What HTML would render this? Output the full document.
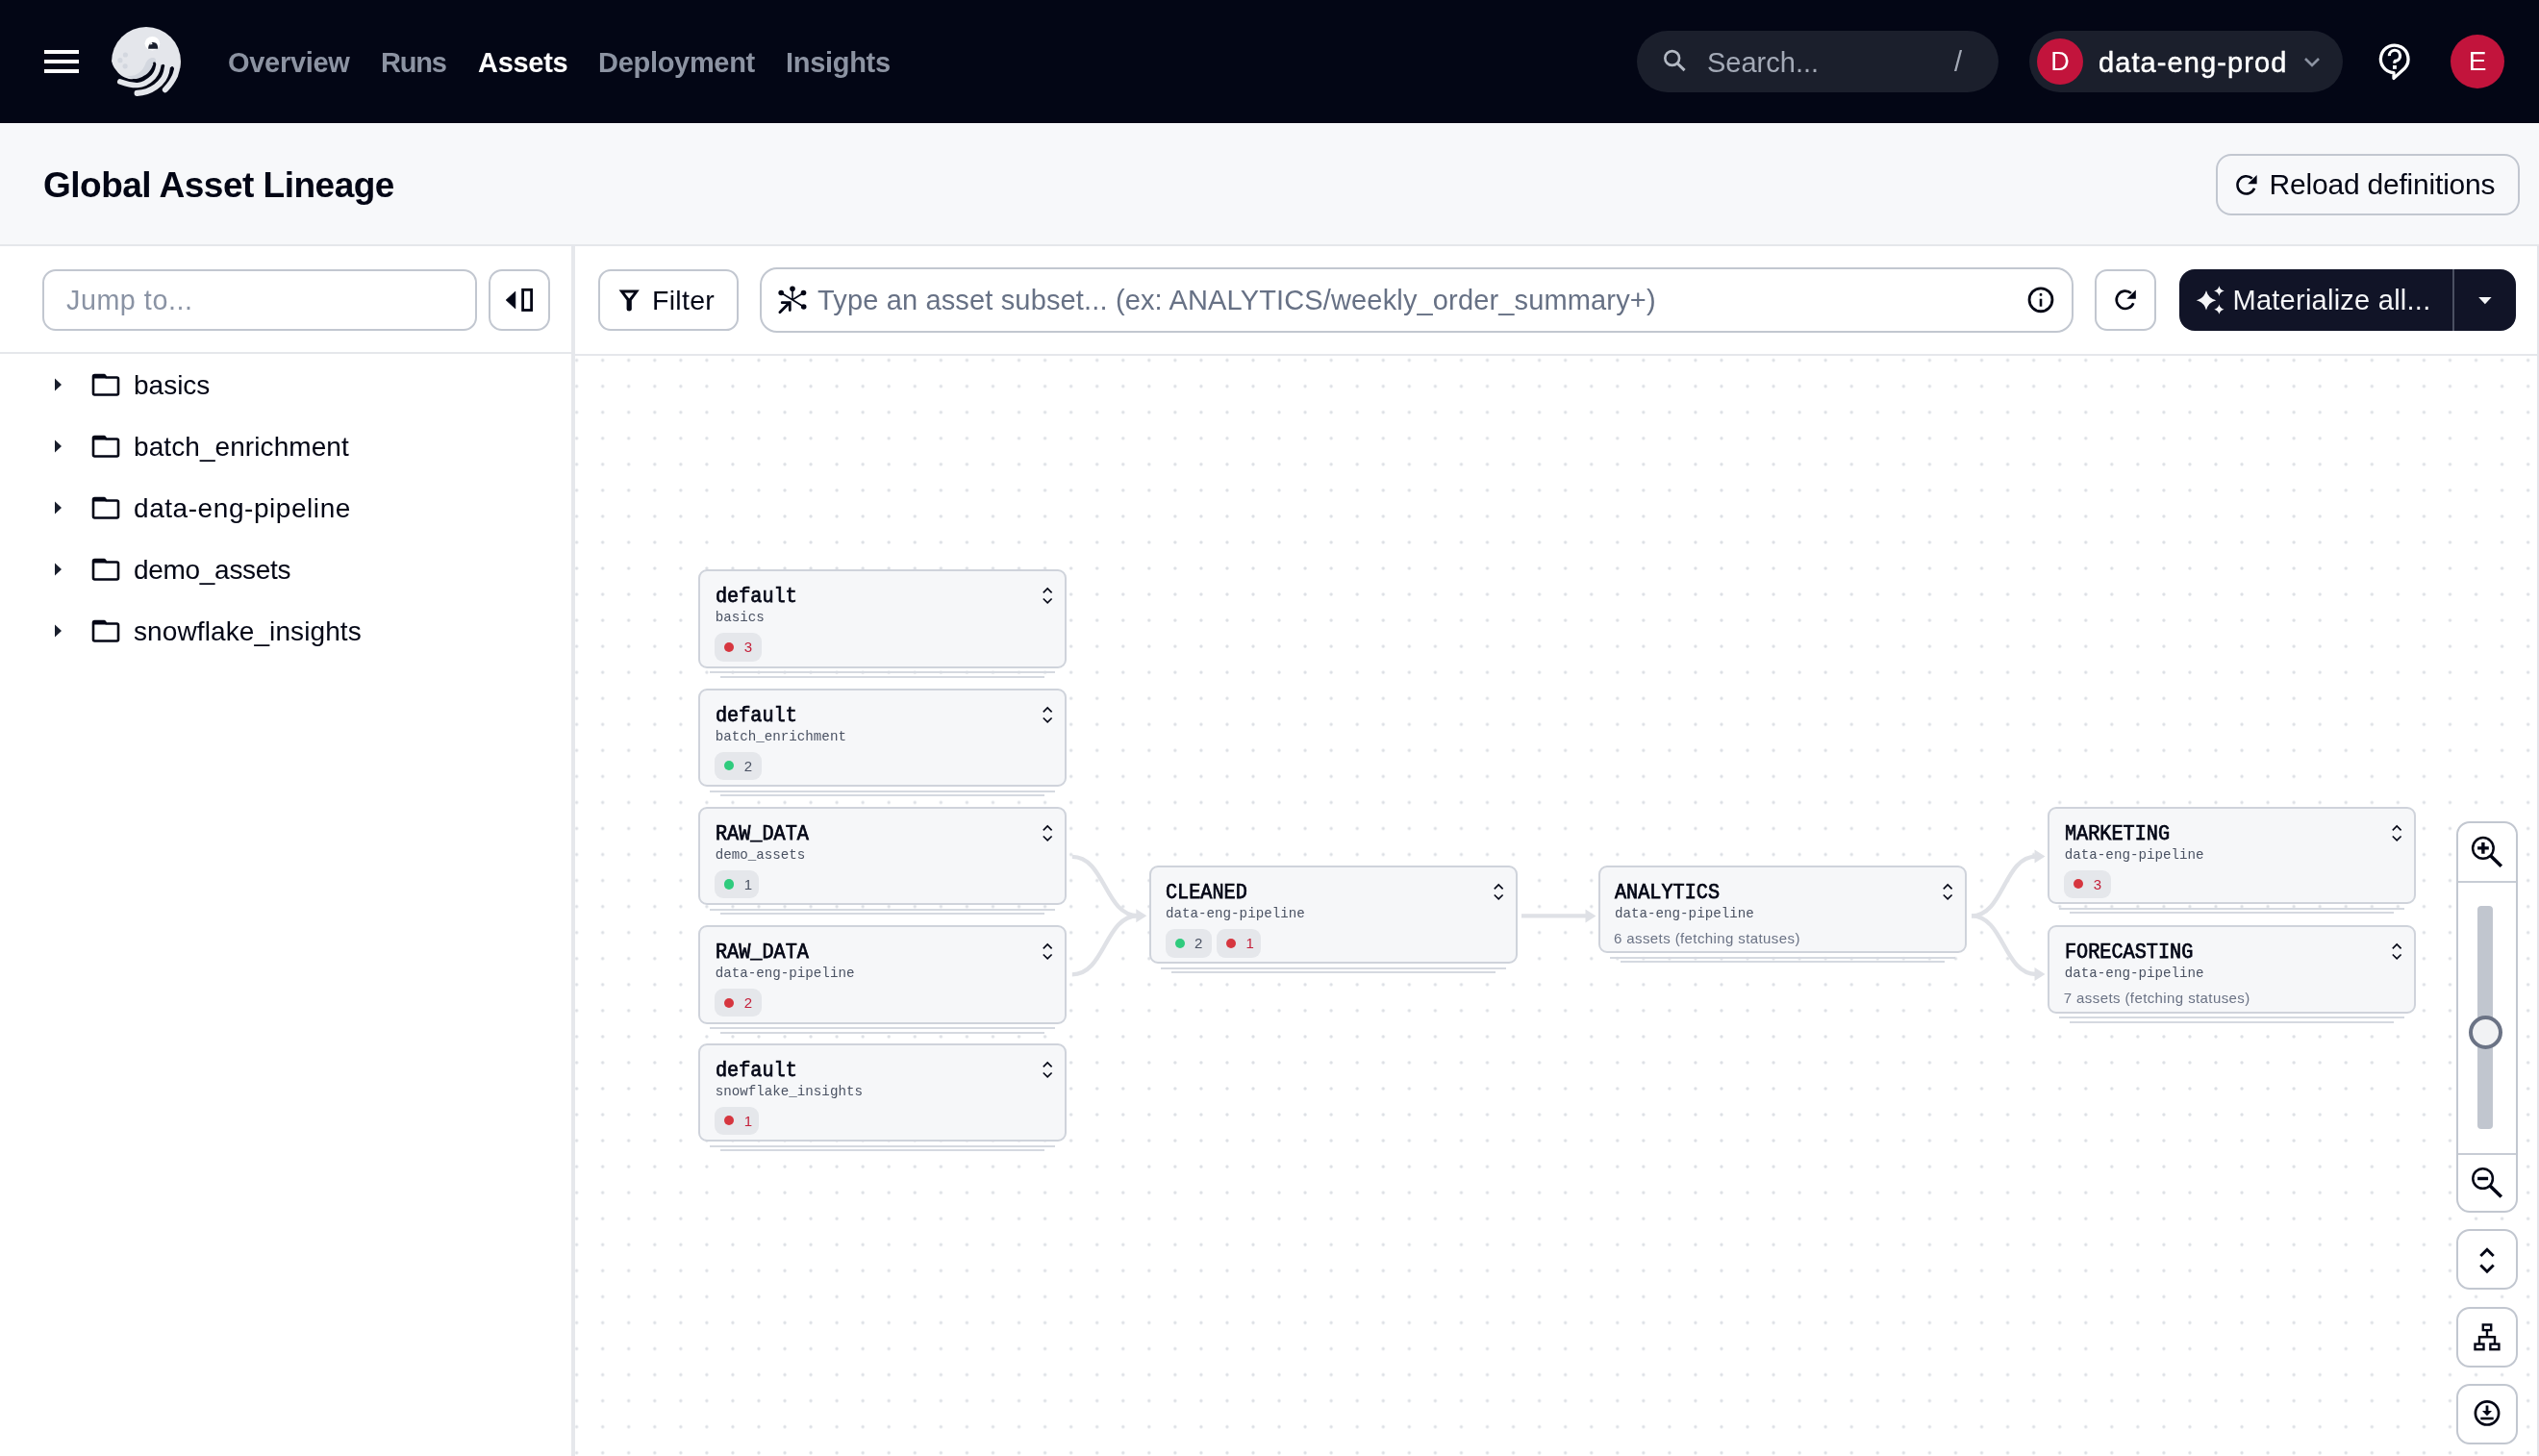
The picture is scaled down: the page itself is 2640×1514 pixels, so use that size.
<!DOCTYPE html>
<html><head><meta charset="utf-8">
<style>
*{box-sizing:border-box;margin:0;padding:0}
html,body{width:2640px;height:1514px;overflow:hidden;background:#fff}
body{font-family:"Liberation Sans",sans-serif;color:#030615;position:relative;-webkit-font-smoothing:antialiased}
.abs{position:absolute}
#root{position:absolute;left:0;top:0;width:2640px;height:1514px;background:#fff;will-change:transform;overflow:hidden}
#nav{position:absolute;left:0;top:0;width:2640px;height:128px;background:#030615}
.navlink{position:absolute;top:43px;font-size:29px;letter-spacing:-0.3px;font-weight:bold;color:#8c93a2;line-height:44px;white-space:nowrap}
.pill{position:absolute;background:#1b1f2c;border-radius:32px}
#phead{position:absolute;left:0;top:128px;width:2640px;height:128px;background:#f7f8fa;border-bottom:2px solid #e5e7eb}
.btn{position:absolute;border:2px solid #c2c7d0;border-radius:16px;background:transparent}
#side{position:absolute;left:0;top:256px;width:598px;height:1258px;background:#fff;border-right:4px solid #e6e8ec}
#gtool{position:absolute;left:598px;top:256px;width:2040px;height:114px;background:#fff;border-bottom:2px solid #e5e7eb}
#canvas{position:absolute;left:598px;top:370px;width:2040px;height:1144px;background:#fff;overflow:hidden}
#rb{position:absolute;left:2638px;top:256px;width:2px;height:1258px;background:#e3e5ea}
.row{position:absolute;left:0;height:64px;width:594px}
.row .txt{position:absolute;left:139px;top:1px;line-height:64px;font-size:28px;color:#030615;white-space:nowrap}
.node{position:absolute;width:383px;border:2px solid #cfd3db;border-radius:9px;background:#f6f7f9}
.node .t{position:absolute;left:15.5px;top:14px;font-family:"Liberation Mono",monospace;font-weight:normal;-webkit-text-stroke:0.75px #030615;font-size:22px;transform:scaleX(0.918);transform-origin:0 0;line-height:26px;color:#030615;white-space:nowrap}
.node .s{position:absolute;left:15.5px;top:39px;font-family:"Liberation Mono",monospace;font-size:14.2px;line-height:18px;color:#4a5263;white-space:nowrap}
.node .c{position:absolute;left:14.5px;top:64px;font-size:15px;letter-spacing:0.4px;line-height:20px;color:#6b7385;white-space:nowrap}
.ul{position:absolute;height:2px;background:#d5d9e0}
.badge{position:absolute;top:64.3px;height:29.3px;border-radius:9px;background:#e5e7eb}
.badge .d{position:absolute;left:10px;top:9.5px;width:10.2px;height:10.2px;border-radius:50%}
.badge .n{position:absolute;left:30.5px;top:0;line-height:29.3px;font-size:15px}
</style></head>
<body>
<div id="root">
<div id="nav">
  <div class="abs" style="left:46px;top:52px;width:36px;height:4px;background:#fff"></div>
  <div class="abs" style="left:46px;top:62px;width:36px;height:4px;background:#fff"></div>
  <div class="abs" style="left:46px;top:72px;width:36px;height:4px;background:#fff"></div>
  <svg class="abs" style="left:112px;top:24px" width="80" height="80" viewBox="0 0 80 80">
    <circle cx="40" cy="40" r="36" fill="#e4e6eb"/>
    <path d="M20 55 C30 56, 36 50, 39 43 C41 37.5, 45 35, 49 36.5 C51 38, 50 44, 48 47 C45 54, 36 58.5, 26 58 Z" fill="#d3d7df"/>
    <circle cx="18.4" cy="33" r="2.6" fill="#d3d7df"/>
    <circle cx="12.9" cy="38.7" r="2.6" fill="#d3d7df"/>
    <circle cx="18.1" cy="44.8" r="2.6" fill="#d3d7df"/>
    <ellipse cx="46.4" cy="21.2" rx="7.8" ry="7.2" fill="#ffffff"/>
    <path d="M42.2 26.8 C42 22.4, 44.5 20, 47.4 20 C50.4 20.1, 52.4 22.6, 52.1 26.8 Z" fill="#1a1f2d"/>
    <path d="M43.3 22.6 L46.7 22.1 L45.5 20.1 Z" fill="#ffffff"/>
    <path d="M0 36 L4.1 40 C5 43.5, 6.3 46, 8.2 48.2 C10 50.8, 11.8 52.6, 13.7 54.3 C16.3 56.2, 19 57.4, 22 57.9 C24 58.2, 25.8 58.3, 27.5 58.1 C30.5 57.8, 33.2 57.1, 35.7 55.9 C38.5 54.6, 40.8 53, 42.6 51 C44.6 48.8, 46 46.6, 46.7 44.1 L48.5 41.8 L57.6 44.1 L67 46.5 L80 48 L80 80 L0 80 Z" fill="#030615"/>
    <path d="M12.7 60.9 C18 62.8, 26 64.8, 31 64.6 C38 64.2, 44 59.5, 47.5 56 C51 52, 53 47, 53.2 40" fill="none" stroke="#e4e6eb" stroke-width="5.4" stroke-linecap="round"/>
    <path d="M30.6 72.9 C36 72.8, 44 70.5, 49.5 66.6 C53 64, 56 61, 58 58 C60.5 54, 62 49, 62.2 42" fill="none" stroke="#e4e6eb" stroke-width="6.1" stroke-linecap="round"/>
    <path d="M59.8 69.3 C62 67, 64 65, 65.6 62.3 C67.5 59.5, 69 57, 70 54.8 C71.5 51, 72.5 47, 72.5 42" fill="none" stroke="#e4e6eb" stroke-width="5.9" stroke-linecap="round"/>
    <circle cx="48.5" cy="41.9" r="1.45" fill="#030615"/>
    <circle cx="57.6" cy="44.2" r="1.5" fill="#030615"/>
    <circle cx="67" cy="46.6" r="1.5" fill="#030615"/>
  </svg>
  <div class="navlink" style="left:237px">Overview</div>
  <div class="navlink" style="left:396px;letter-spacing:-1.2px">Runs</div>
  <div class="navlink" style="left:497px;color:#fff">Assets</div>
  <div class="navlink" style="left:622px">Deployment</div>
  <div class="navlink" style="left:817px">Insights</div>
  <div class="pill" style="left:1702px;top:32px;width:376px;height:64px">
    <svg class="abs" style="left:26px;top:18px" width="28" height="28" viewBox="0 0 28 28"><circle cx="10.7" cy="10.5" r="7.4" fill="none" stroke="#b3b9c4" stroke-width="2.6"/><path d="M16.2 16 L23.6 23.2" stroke="#b3b9c4" stroke-width="3" stroke-linecap="butt"/></svg>
    <div class="abs" style="left:73px;top:1px;line-height:64px;font-size:29px;color:#a3a9b6;white-space:nowrap">Search...</div>
    <div class="abs" style="left:330px;top:0;line-height:64px;font-size:29px;color:#a3a9b6">/</div>
  </div>
  <div class="pill" style="left:2110px;top:32px;width:326px;height:64px">
    <div class="abs" style="left:8px;top:8px;width:48px;height:48px;border-radius:50%;background:#c2143c;color:#fff;font-size:27px;line-height:48px;text-align:center">D</div>
    <div class="abs" style="left:72px;top:1px;line-height:64px;font-size:29px;letter-spacing:1.1px;color:#fff;-webkit-text-stroke:0.45px #fff;white-space:nowrap">data-eng-prod</div>
    <svg class="abs" style="left:284px;top:26px" width="20" height="14" viewBox="0 0 20 14"><path d="M3 3 L10 10 L17 3" fill="none" stroke="#8c93a2" stroke-width="2.6"/></svg>
  </div>
  <svg class="abs" style="left:2470px;top:43px" width="40" height="44" viewBox="0 0 40 44">
    <path d="M19 38.4 L19 32.7 A14.3 14.3 0 1 1 30.6 27.7 Z" fill="none" stroke="#fff" stroke-width="3.3" stroke-linejoin="round"/>
    <path d="M14.4 15.2 A5.6 5.6 0 1 1 20.6 20.4 Q19.8 21 19.8 22 L19.8 22.8" fill="none" stroke="#fff" stroke-width="3.2"/>
    <rect x="18" y="25" width="3.9" height="3.8" fill="#fff"/>
  </svg>
  <div class="abs" style="left:2548px;top:36px;width:56px;height:56px;border-radius:50%;background:#c2143c;color:#fff;font-size:28px;line-height:56px;text-align:center">E</div>
</div>
<div id="phead">
  <div class="abs" style="left:45px;top:1px;line-height:128px;font-size:37px;font-weight:bold;letter-spacing:-0.5px">Global Asset Lineage</div>
  <div class="btn" style="left:2304px;top:32px;width:316px;height:64px">
    <svg class="abs" style="left:18px;top:18px" width="30" height="30" viewBox="0 0 30 30"><path d="M20.10 15.80 A9.15 9.15 0 1 1 17.70 5.50" fill="none" stroke="#030615" stroke-width="2.6"/><path d="M13.20 11.30 L22.60 11.30 L22.60 2.10 Z" fill="#030615"/></svg>
    <div class="abs" style="left:53.5px;top:0px;line-height:60px;font-size:30px;letter-spacing:-0.2px;white-space:nowrap">Reload definitions</div>
  </div>
</div>
<div id="side">
  <div class="abs" style="left:0;top:110px;width:594px;height:2px;background:#e5e7eb"></div>
  <div class="btn" style="left:44px;top:24px;width:452px;height:64px;border-radius:14px">
    <div class="abs" style="left:23px;top:0;line-height:60px;font-size:28.7px;letter-spacing:0.55px;color:#8a93a4;white-space:nowrap">Jump to...</div>
  </div>
  <div class="btn" style="left:508px;top:24px;width:64px;height:64px;border-radius:14px">
    <svg class="abs" style="left:0;top:0" width="60" height="60" viewBox="0 0 60 60"><path d="M16.2 30 L25.8 21.2 L25.8 38.8 Z" fill="#030615" stroke="#030615" stroke-width="0.8" stroke-linejoin="round"/><rect x="33.6" y="19.3" width="9" height="21.2" fill="none" stroke="#030615" stroke-width="2.8"/></svg>
  </div>
  <div class="row" style="top:112px">
    <svg class="abs" style="left:56px;top:24px" width="10" height="16" viewBox="0 0 10 16"><path d="M1 1.5 L8 8 L1 14.5 Z" fill="#1a1f2d"/></svg>
    <svg class="abs" style="left:95px;top:20px" width="30" height="24" viewBox="0 0 30 24"><path d="M3.5 2 L13.5 2 L15.5 4.5 L26.5 4.5 Q28 4.5 28 6 L28 21 Q28 22.5 26.5 22.5 L3.5 22.5 Q2 22.5 2 21 L2 3.5 Q2 2 3.5 2 Z" fill="none" stroke="#030615" stroke-width="2.6" stroke-linejoin="round"/><path d="M2 3 L14 3 L15.5 5.5 L2 5.5 Z" fill="#030615"/></svg>
    <div class="txt">basics</div></div>
  <div class="row" style="top:176px">
    <svg class="abs" style="left:56px;top:24px" width="10" height="16" viewBox="0 0 10 16"><path d="M1 1.5 L8 8 L1 14.5 Z" fill="#1a1f2d"/></svg>
    <svg class="abs" style="left:95px;top:20px" width="30" height="24" viewBox="0 0 30 24"><path d="M3.5 2 L13.5 2 L15.5 4.5 L26.5 4.5 Q28 4.5 28 6 L28 21 Q28 22.5 26.5 22.5 L3.5 22.5 Q2 22.5 2 21 L2 3.5 Q2 2 3.5 2 Z" fill="none" stroke="#030615" stroke-width="2.6" stroke-linejoin="round"/><path d="M2 3 L14 3 L15.5 5.5 L2 5.5 Z" fill="#030615"/></svg>
    <div class="txt" style="letter-spacing:0.08px">batch_enrichment</div></div>
  <div class="row" style="top:240px">
    <svg class="abs" style="left:56px;top:24px" width="10" height="16" viewBox="0 0 10 16"><path d="M1 1.5 L8 8 L1 14.5 Z" fill="#1a1f2d"/></svg>
    <svg class="abs" style="left:95px;top:20px" width="30" height="24" viewBox="0 0 30 24"><path d="M3.5 2 L13.5 2 L15.5 4.5 L26.5 4.5 Q28 4.5 28 6 L28 21 Q28 22.5 26.5 22.5 L3.5 22.5 Q2 22.5 2 21 L2 3.5 Q2 2 3.5 2 Z" fill="none" stroke="#030615" stroke-width="2.6" stroke-linejoin="round"/><path d="M2 3 L14 3 L15.5 5.5 L2 5.5 Z" fill="#030615"/></svg>
    <div class="txt" style="letter-spacing:0.56px">data-eng-pipeline</div></div>
  <div class="row" style="top:304px">
    <svg class="abs" style="left:56px;top:24px" width="10" height="16" viewBox="0 0 10 16"><path d="M1 1.5 L8 8 L1 14.5 Z" fill="#1a1f2d"/></svg>
    <svg class="abs" style="left:95px;top:20px" width="30" height="24" viewBox="0 0 30 24"><path d="M3.5 2 L13.5 2 L15.5 4.5 L26.5 4.5 Q28 4.5 28 6 L28 21 Q28 22.5 26.5 22.5 L3.5 22.5 Q2 22.5 2 21 L2 3.5 Q2 2 3.5 2 Z" fill="none" stroke="#030615" stroke-width="2.6" stroke-linejoin="round"/><path d="M2 3 L14 3 L15.5 5.5 L2 5.5 Z" fill="#030615"/></svg>
    <div class="txt" style="letter-spacing:-0.3px">demo_assets</div></div>
  <div class="row" style="top:368px">
    <svg class="abs" style="left:56px;top:24px" width="10" height="16" viewBox="0 0 10 16"><path d="M1 1.5 L8 8 L1 14.5 Z" fill="#1a1f2d"/></svg>
    <svg class="abs" style="left:95px;top:20px" width="30" height="24" viewBox="0 0 30 24"><path d="M3.5 2 L13.5 2 L15.5 4.5 L26.5 4.5 Q28 4.5 28 6 L28 21 Q28 22.5 26.5 22.5 L3.5 22.5 Q2 22.5 2 21 L2 3.5 Q2 2 3.5 2 Z" fill="none" stroke="#030615" stroke-width="2.6" stroke-linejoin="round"/><path d="M2 3 L14 3 L15.5 5.5 L2 5.5 Z" fill="#030615"/></svg>
    <div class="txt" style="letter-spacing:0.1px">snowflake_insights</div></div>
</div>
<div id="gtool">
  <div class="btn" style="left:24px;top:24px;width:146px;height:64px;border-radius:13px">
    <svg class="abs" style="left:15px;top:15px" width="28" height="28" viewBox="0 0 28 28"><path d="M4.6 4.6 L25.8 4.6 L17.8 15.2 L17.8 24.6 Q17.8 26.6 15.2 26.6 Q12.6 26.6 12.6 24.6 L12.6 15.2 Z" fill="#030615"/><path d="M10.4 7.6 L20 7.6 L15.2 13.4 Z" fill="#fff"/></svg>
    <div class="abs" style="left:54px;top:0px;line-height:60px;font-size:28.5px;letter-spacing:0.3px;white-space:nowrap">Filter</div>
  </div>
  <div class="btn" style="left:192px;top:22px;width:1366px;height:68px;border-radius:18px">
    <svg class="abs" style="left:16px;top:16px" width="34" height="34" viewBox="0 0 34 34">
      <g stroke="#030615" stroke-width="1.6" fill="none"><path d="M16 4.2 L16 15.8 M4.2 8.5 L27.7 23 M27.5 8.5 L16.8 15.3"/></g>
      <g fill="#030615"><circle cx="16" cy="4.2" r="2.8"/><circle cx="4.2" cy="8.5" r="2.8"/><circle cx="27.5" cy="8.5" r="2.8"/><circle cx="27.7" cy="23" r="2.8"/></g>
      <path d="M2.9 28.8 L12.6 19.1" stroke="#030615" stroke-width="2.8" stroke-linecap="round"/><path d="M5.2 18.7 L13.3 18.7 L13.3 26.6" fill="none" stroke="#030615" stroke-width="2.8" stroke-linecap="round"/>
    </svg>
    <div class="abs" style="left:58px;top:0;line-height:64px;font-size:29px;letter-spacing:0.15px;color:#677185;white-space:nowrap">Type an asset subset... (ex: ANALYTICS/weekly_order_summary+)</div>
    <svg class="abs" style="left:1314px;top:18px" width="30" height="30" viewBox="0 0 30 30"><circle cx="16" cy="13.8" r="11.95" fill="none" stroke="#030615" stroke-width="2.8"/><rect x="14.7" y="12.7" width="2.6" height="8" fill="#030615"/><rect x="14.7" y="7.1" width="2.6" height="2.6" rx="0.6" fill="#030615"/></svg>
  </div>
  <div class="btn" style="left:1580px;top:24px;width:64px;height:64px;border-radius:13px">
    <svg class="abs" style="left:16px;top:16px" width="30" height="30" viewBox="0 0 30 30"><path d="M22.30 17.20 A9.15 9.15 0 1 1 19.90 6.90" fill="none" stroke="#030615" stroke-width="2.6"/><path d="M15.40 12.70 L24.80 12.70 L24.80 3.50 Z" fill="#030615"/></svg>
  </div>
  <div class="abs" style="left:1668px;top:24px;width:350px;height:64px;border-radius:16px;background:#111427">
    <svg class="abs" style="left:16px;top:14px" width="36" height="36" viewBox="0 0 36 36" fill="#f5f6f8"><path d="M12 8.0 Q14.06 16.240000000000002 22.3 18.3 Q14.06 20.36 12 28.6 Q9.94 20.36 1.6999999999999993 18.3 Q9.94 16.240000000000002 12 8.0 Z"/><path d="M25.4 3.3 Q26.354 7.646 30.7 8.6 Q26.354 9.554 25.4 13.899999999999999 Q24.445999999999998 9.554 20.099999999999998 8.6 Q24.445999999999998 7.646 25.4 3.3 Z"/><path d="M25.4 22.6 Q26.317999999999998 26.782 30.5 27.7 Q26.317999999999998 28.618 25.4 32.8 Q24.482 28.618 20.299999999999997 27.7 Q24.482 26.782 25.4 22.6 Z"/></svg>
    <div class="abs" style="left:55.5px;top:0px;line-height:64px;font-size:29px;letter-spacing:0.25px;color:#f5f6f8;white-space:nowrap">Materialize all...</div>
    <div class="abs" style="left:284px;top:0;width:2px;height:64px;background:#4b5062"></div>
    <svg class="abs" style="left:310px;top:28px" width="16" height="10" viewBox="0 0 16 10"><path d="M1.2 1 L14.6 1 L7.9 8.3 Z" fill="#f5f6f8"/></svg>
  </div>
</div>
<div id="canvas">
  <svg class="abs" style="left:0;top:0" width="2040" height="1144"><defs><pattern id="dots" patternUnits="userSpaceOnUse" width="27.054" height="27.05" x="-11.926999999999977" y="-8.924999999999978"><circle cx="13.527" cy="13.525" r="1.65" fill="#dcdfe4"/></pattern></defs><rect width="2040" height="1144" fill="url(#dots)"/></svg>
</div>
<svg class="abs" style="left:0;top:0;pointer-events:none" width="2640" height="1514"><path d="M1114.8 890.9 C1148.9 890.9 1148.9 952.2 1183 952.2" fill="none" stroke="#dfe1e6" stroke-width="4.4"/><path d="M1114.8 1013.4 C1148.9 1013.4 1148.9 952.2 1183 952.2" fill="none" stroke="#dfe1e6" stroke-width="4.4"/><path d="M1192.3 952.2 L1181.3 945.2 L1181.3 959.2 Z" fill="#dfe1e6"/><path d="M1582 952.4 C1616.0 952.4 1616.0 952.4 1650 952.4" fill="none" stroke="#dfe1e6" stroke-width="4.4"/><path d="M1659.5 952.4 L1648.5 945.4 L1648.5 959.4 Z" fill="#dfe1e6"/><path d="M2050 952.4 C2083.5 952.4 2083.5 890.6 2117 890.6" fill="none" stroke="#dfe1e6" stroke-width="4.4"/><path d="M2126.5 890.6 L2115.5 883.6 L2115.5 897.6 Z" fill="#dfe1e6"/><path d="M2050 952.4 C2083.5 952.4 2083.5 1013 2117 1013" fill="none" stroke="#dfe1e6" stroke-width="4.4"/><path d="M2126.5 1013 L2115.5 1006 L2115.5 1020 Z" fill="#dfe1e6"/></svg>
<div class="node" style="left:726.2px;top:592.1px;height:102.7px">
<div class="t">default</div><div class="s">basics</div>
<svg class="abs" style="left:352px;top:15px" width="18" height="22" viewBox="0 0 18 22"><path d="M4.8 7.4 L9.2 3 L13.6 7.4 M4.8 13.5 L9.2 17.9 L13.6 13.5" fill="none" stroke="#030615" stroke-width="1.6"/></svg>
<div class="badge" style="left:15px;width:49px"><div class="d" style="background:#d6363f"></div><div class="n" style="color:#c4203a">3</div></div>
</div>
<div class="ul" style="left:738.2px;top:698.3000000000001px;width:359px"></div>
<div class="ul" style="left:749.2px;top:702.8000000000001px;width:337px"></div><div class="node" style="left:726.2px;top:715.5px;height:102.7px">
<div class="t">default</div><div class="s">batch_enrichment</div>
<svg class="abs" style="left:352px;top:15px" width="18" height="22" viewBox="0 0 18 22"><path d="M4.8 7.4 L9.2 3 L13.6 7.4 M4.8 13.5 L9.2 17.9 L13.6 13.5" fill="none" stroke="#030615" stroke-width="1.6"/></svg>
<div class="badge" style="left:15px;width:48.5px"><div class="d" style="background:#2fcb7d"></div><div class="n" style="color:#4a5263">2</div></div>
</div>
<div class="ul" style="left:738.2px;top:821.7px;width:359px"></div>
<div class="ul" style="left:749.2px;top:826.2px;width:337px"></div><div class="node" style="left:726.2px;top:838.7px;height:102.7px">
<div class="t">RAW_DATA</div><div class="s">demo_assets</div>
<svg class="abs" style="left:352px;top:15px" width="18" height="22" viewBox="0 0 18 22"><path d="M4.8 7.4 L9.2 3 L13.6 7.4 M4.8 13.5 L9.2 17.9 L13.6 13.5" fill="none" stroke="#030615" stroke-width="1.6"/></svg>
<div class="badge" style="left:15px;width:45.5px"><div class="d" style="background:#2fcb7d"></div><div class="n" style="color:#4a5263">1</div></div>
</div>
<div class="ul" style="left:738.2px;top:944.9000000000001px;width:359px"></div>
<div class="ul" style="left:749.2px;top:949.4000000000001px;width:337px"></div><div class="node" style="left:726.2px;top:961.9px;height:102.7px">
<div class="t">RAW_DATA</div><div class="s">data-eng-pipeline</div>
<svg class="abs" style="left:352px;top:15px" width="18" height="22" viewBox="0 0 18 22"><path d="M4.8 7.4 L9.2 3 L13.6 7.4 M4.8 13.5 L9.2 17.9 L13.6 13.5" fill="none" stroke="#030615" stroke-width="1.6"/></svg>
<div class="badge" style="left:15px;width:48.5px"><div class="d" style="background:#d6363f"></div><div class="n" style="color:#c4203a">2</div></div>
</div>
<div class="ul" style="left:738.2px;top:1068.1px;width:359px"></div>
<div class="ul" style="left:749.2px;top:1072.6px;width:337px"></div><div class="node" style="left:726.2px;top:1084.5px;height:102.7px">
<div class="t">default</div><div class="s">snowflake_insights</div>
<svg class="abs" style="left:352px;top:15px" width="18" height="22" viewBox="0 0 18 22"><path d="M4.8 7.4 L9.2 3 L13.6 7.4 M4.8 13.5 L9.2 17.9 L13.6 13.5" fill="none" stroke="#030615" stroke-width="1.6"/></svg>
<div class="badge" style="left:15px;width:45.5px"><div class="d" style="background:#d6363f"></div><div class="n" style="color:#c4203a">1</div></div>
</div>
<div class="ul" style="left:738.2px;top:1190.7px;width:359px"></div>
<div class="ul" style="left:749.2px;top:1195.2px;width:337px"></div><div class="node" style="left:1194.5px;top:900.2px;height:101.8px">
<div class="t">CLEANED</div><div class="s">data-eng-pipeline</div>
<svg class="abs" style="left:352px;top:15px" width="18" height="22" viewBox="0 0 18 22"><path d="M4.8 7.4 L9.2 3 L13.6 7.4 M4.8 13.5 L9.2 17.9 L13.6 13.5" fill="none" stroke="#030615" stroke-width="1.6"/></svg>
<div class="badge" style="left:15px;width:48.5px"><div class="d" style="background:#2fcb7d"></div><div class="n" style="color:#4a5263">2</div></div>
<div class="badge" style="left:68.5px;width:45.5px"><div class="d" style="background:#d6363f"></div><div class="n" style="color:#c4203a">1</div></div>
</div>
<div class="ul" style="left:1206.5px;top:1005.5px;width:359px"></div>
<div class="ul" style="left:1217.5px;top:1010.0px;width:337px"></div><div class="node" style="left:1661.5px;top:900.3px;height:90.8px">
<div class="t">ANALYTICS</div><div class="s">data-eng-pipeline</div>
<svg class="abs" style="left:352px;top:15px" width="18" height="22" viewBox="0 0 18 22"><path d="M4.8 7.4 L9.2 3 L13.6 7.4 M4.8 13.5 L9.2 17.9 L13.6 13.5" fill="none" stroke="#030615" stroke-width="1.6"/></svg>
<div class="c">6 assets (fetching statuses)</div>
</div>
<div class="ul" style="left:1673.5px;top:994.5999999999999px;width:359px"></div>
<div class="ul" style="left:1684.5px;top:999.0999999999999px;width:337px"></div><div class="node" style="left:2129.3px;top:838.5px;height:101.7px">
<div class="t">MARKETING</div><div class="s">data-eng-pipeline</div>
<svg class="abs" style="left:352px;top:15px" width="18" height="22" viewBox="0 0 18 22"><path d="M4.8 7.4 L9.2 3 L13.6 7.4 M4.8 13.5 L9.2 17.9 L13.6 13.5" fill="none" stroke="#030615" stroke-width="1.6"/></svg>
<div class="badge" style="left:15px;width:49px"><div class="d" style="background:#d6363f"></div><div class="n" style="color:#c4203a">3</div></div>
</div>
<div class="ul" style="left:2141.3px;top:943.7px;width:359px"></div>
<div class="ul" style="left:2152.3px;top:948.2px;width:337px"></div><div class="node" style="left:2129.3px;top:962.0px;height:91.8px">
<div class="t">FORECASTING</div><div class="s">data-eng-pipeline</div>
<svg class="abs" style="left:352px;top:15px" width="18" height="22" viewBox="0 0 18 22"><path d="M4.8 7.4 L9.2 3 L13.6 7.4 M4.8 13.5 L9.2 17.9 L13.6 13.5" fill="none" stroke="#030615" stroke-width="1.6"/></svg>
<div class="c">7 assets (fetching statuses)</div>
</div>
<div class="ul" style="left:2141.3px;top:1057.3px;width:359px"></div>
<div class="ul" style="left:2152.3px;top:1061.8px;width:337px"></div>
<div class="btn" style="left:2554px;top:854px;width:64px;height:407px;border-radius:14px;background:#fff">
  <svg class="abs" style="left:0;top:0" width="60" height="60" viewBox="0 0 60 60"><circle cx="25.9" cy="25.9" r="10.8" fill="none" stroke="#030615" stroke-width="2.5"/><path d="M20.1 25.9 L31.8 25.9 M25.9 20.1 L25.9 31.7" stroke="#030615" stroke-width="3.4"/><path d="M33.6 33.8 L44.8 44.8" stroke="#030615" stroke-width="3.6"/></svg>
  <div class="abs" style="left:0;top:60px;width:60px;height:2px;background:#c7ccd5"></div>
  <div class="abs" style="left:20px;top:86px;width:16px;height:232px;border-radius:4px;background:#c1c6cf"></div>
  <div class="abs" style="left:10.5px;top:200.4px;width:35px;height:35px;border-radius:50%;background:#f1f2f4;border:4px solid #6b7385"></div>
  <div class="abs" style="left:0;top:342.7px;width:60px;height:2px;background:#c7ccd5"></div>
  <svg class="abs" style="left:0;top:344px" width="60" height="60" viewBox="0 0 60 60"><circle cx="25.6" cy="25.5" r="10.3" fill="none" stroke="#030615" stroke-width="2.5"/><path d="M20.1 25.5 L31.1 25.5" stroke="#030615" stroke-width="3.4"/><path d="M33 33 L44.8 44.5" stroke="#030615" stroke-width="3.6"/></svg>
</div>
<div class="btn" style="left:2554px;top:1278px;width:64px;height:63px;border-radius:14px;background:#fff">
  <svg class="abs" style="left:0;top:0" width="60" height="60" viewBox="0 0 60 60"><path d="M23.3 26 L30 19.3 L36.7 26 M23.3 35.5 L30 42.2 L36.7 35.5" fill="none" stroke="#030615" stroke-width="3"/></svg>
</div>
<div class="btn" style="left:2554px;top:1358.7px;width:64px;height:63px;border-radius:14px;background:#fff">
  <svg class="abs" style="left:0;top:0" width="60" height="60" viewBox="0 0 60 60"><g fill="none" stroke="#030615" stroke-width="2.4"><rect x="25.8" y="16.5" width="8.4" height="5.6"/><rect x="17.5" y="36.6" width="9" height="5.6"/><rect x="33.4" y="36.6" width="9" height="5.6"/><path d="M30 22.2 L30 29.2 M22 36.6 L22 29.2 L38 29.2 L38 36.6"/></g></svg>
</div>
<div class="btn" style="left:2554px;top:1438.8px;width:64px;height:63px;border-radius:14px;background:#fff">
  <svg class="abs" style="left:0;top:0" width="60" height="60" viewBox="0 0 60 60"><circle cx="30" cy="28.4" r="12.1" fill="none" stroke="#030615" stroke-width="2.7"/><path d="M30 20.5 L30 28" stroke="#030615" stroke-width="2.8"/><path d="M25 26 L35 26 L30 31.3 Z" fill="#030615"/><path d="M23.3 34 L36.7 34" stroke="#030615" stroke-width="2.6"/></svg>
</div>
<div id="rb"></div>
</div>
</body></html>
